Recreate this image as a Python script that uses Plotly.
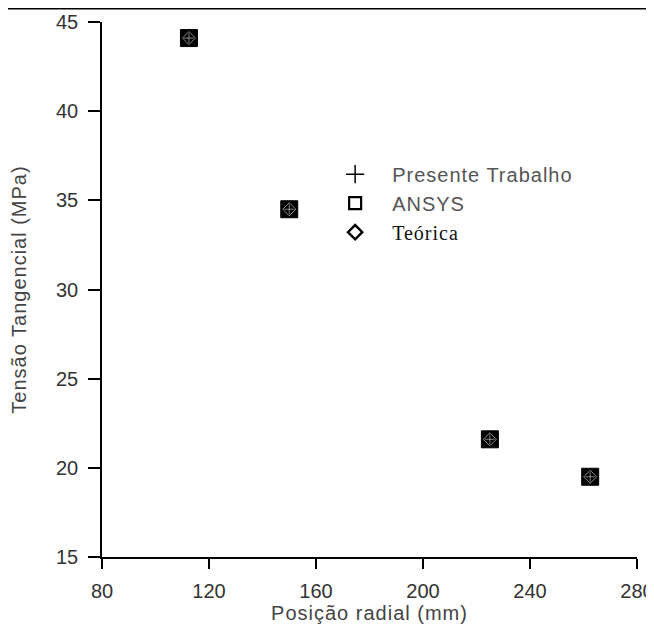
import plotly.graph_objects as go

radial_mm = [112.5, 150.0, 225.0, 262.5]
presente_trabalho = [44.1, 34.5, 21.6, 19.5]
ansys = [44.1, 34.5, 21.6, 19.5]
teorica = [44.1, 34.5, 21.6, 19.5]

x_ticks = [80, 120, 160, 200, 240, 280]
y_ticks = [15, 20, 25, 30, 35, 40, 45]

series_names = ["Presente Trabalho", "ANSYS", "Teórica"]

SP = '<span style="letter-spacing:1px">{}</span>'
SERIF = '<span style="font-family:\'Liberation Serif\', \'Times New Roman\', serif; letter-spacing:1px; fill:#111">{}</span>'

fig = go.Figure()

# data marks (overlapping symbols appear as dark squares)
fig.add_trace(go.Scatter(
    x=radial_mm, y=ansys, mode="markers", showlegend=False,
    marker=dict(symbol="square", size=17, color="black", line=dict(width=1, color="black")),
))
fig.add_trace(go.Scatter(
    x=radial_mm, y=teorica, mode="markers", showlegend=False,
    marker=dict(symbol="diamond-open", size=10, color="rgba(255,255,255,0.55)",
                line=dict(width=1, color="rgba(255,255,255,0.55)")),
))
fig.add_trace(go.Scatter(
    x=radial_mm, y=presente_trabalho, mode="markers", showlegend=False,
    marker=dict(symbol="cross-thin-open", size=7, color="rgba(255,255,255,0.5)",
                line=dict(width=1, color="rgba(255,255,255,0.5)")),
))

# legend entries
fig.add_trace(go.Scatter(
    x=[None], y=[None], mode="markers", name=SP.format(series_names[0]),
    marker=dict(symbol="cross-thin-open", size=13, color="black", line=dict(width=1.5, color="black")),
))
fig.add_trace(go.Scatter(
    x=[None], y=[None], mode="markers", name=SP.format(series_names[1]),
    marker=dict(symbol="square-open", size=12, color="black", line=dict(width=2.2, color="black")),
))
fig.add_trace(go.Scatter(
    x=[None], y=[None], mode="markers", name=SERIF.format(series_names[2]),
    marker=dict(symbol="diamond-open", size=11, color="black", line=dict(width=2.4, color="black")),
))

fig.add_shape(type="line", xref="paper", yref="paper", x0=-0.3, x1=1.2, y0=1.0252, y1=1.0252,
              line=dict(color="black", width=2))

fig.update_layout(
    width=654, height=630,
    margin=dict(l=94, r=25, t=14, b=81, autoexpand=False),
    paper_bgcolor="white", plot_bgcolor="white",
    font=dict(family="Liberation Sans, Arial, sans-serif", size=20, color="#333"),
    showlegend=True,
    legend=dict(
        x=0.404, y=0.752, xanchor="left", yanchor="top",
        itemwidth=64,
        font=dict(size=20, color="#555"),
        bgcolor="rgba(0,0,0,0)",
    ),
    xaxis=dict(
        range=[80, 280], tickvals=x_ticks, ticktext=[str(v) for v in x_ticks],
        ticks="outside", ticklen=10, tickwidth=1.5, automargin=False,
        tickcolor="black", showline=True, linecolor="black", linewidth=1.5,
        showgrid=False, zeroline=False, ticklabelstandoff=5,
        title=dict(text=SP.format("Posição radial (mm)"), font=dict(size=20, color="#444"), standoff=4),
        tickfont=dict(size=20, color="#333"),
    ),
    yaxis=dict(
        range=[15, 45], tickvals=y_ticks, ticktext=[str(v) for v in y_ticks],
        ticks="outside", ticklen=12, tickwidth=1.5, automargin=False,
        tickcolor="black", showline=True, linecolor="black", linewidth=1.5,
        showgrid=False, zeroline=False, ticklabelstandoff=6,
        title=dict(text=SP.format("Tensão Tangencial (MPa)"), font=dict(size=20, color="#444"), standoff=26),
        tickfont=dict(size=20, color="#333"),
    ),
)

fig.write_html("out.html")
